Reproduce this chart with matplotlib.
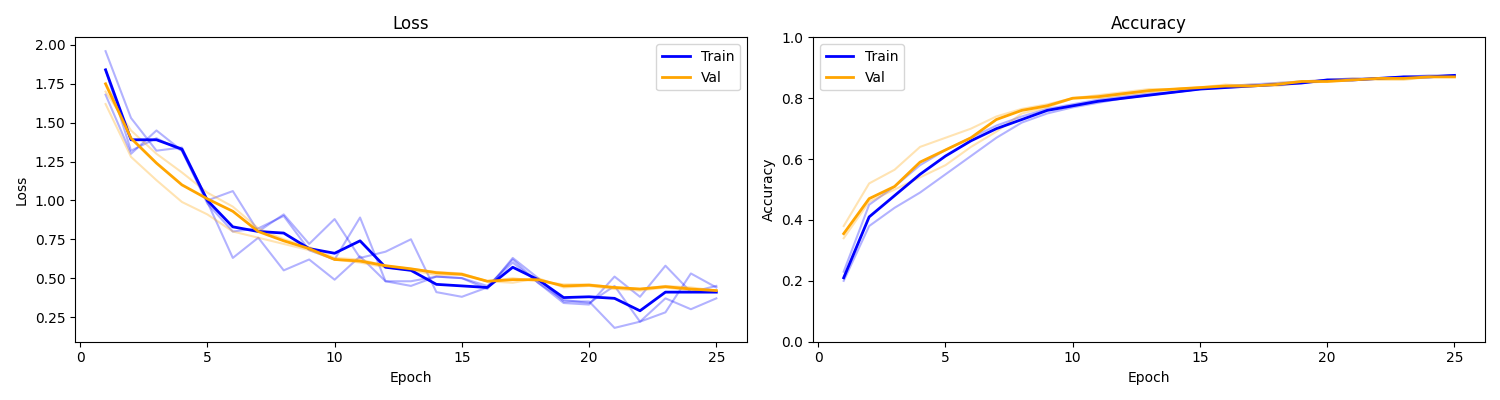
import matplotlib
matplotlib.use("Agg")
import matplotlib.pyplot as plt

epochs = list(range(1, 26))
loss_train = [1.84,1.39,1.39,1.33,1.00,0.83,0.80,0.79,0.69,0.66,0.74,0.57,0.55,0.46,0.45,0.44,0.57,0.49,0.375,0.38,0.37,0.29,0.41,0.41,0.41]
loss_val = [1.75,1.40,1.24,1.10,1.01,0.93,0.80,0.74,0.69,0.62,0.61,0.58,0.56,0.535,0.525,0.48,0.49,0.49,0.45,0.455,0.44,0.43,0.445,0.43,0.42]
loss_train_runs = [
    [1.96,1.53,1.32,1.34,1.00,1.06,0.80,0.91,0.72,0.88,0.63,0.67,0.75,0.41,0.38,0.44,0.62,0.47,0.34,0.33,0.51,0.38,0.58,0.41,0.45],
    [1.68,1.30,1.45,1.32,0.99,0.63,0.76,0.55,0.62,0.49,0.64,0.48,0.48,0.51,0.50,0.43,0.63,0.50,0.35,0.35,0.18,0.22,0.28,0.53,0.44],
    [1.84,1.32,1.40,1.32,0.98,0.80,0.82,0.90,0.68,0.62,0.89,0.48,0.45,0.51,0.50,0.45,0.60,0.47,0.36,0.34,0.45,0.22,0.37,0.30,0.37],
]
loss_val_runs = [
    [1.62,1.28,1.13,0.99,0.91,0.80,0.76,0.72,0.68,0.62,0.60,0.57,0.55,0.52,0.52,0.48,0.47,0.50,0.44,0.45,0.43,0.42,0.44,0.42,0.41],
    [1.70,1.45,1.30,1.18,1.05,0.96,0.82,0.75,0.70,0.63,0.62,0.58,0.56,0.54,0.53,0.48,0.50,0.48,0.46,0.46,0.44,0.43,0.45,0.44,0.42],
]
acc_train = [0.21,0.41,0.48,0.55,0.61,0.66,0.70,0.73,0.76,0.775,0.79,0.80,0.81,0.82,0.83,0.835,0.84,0.845,0.85,0.86,0.86,0.865,0.87,0.87,0.875]
acc_val = [0.355,0.47,0.51,0.59,0.63,0.67,0.73,0.76,0.775,0.80,0.805,0.815,0.825,0.83,0.835,0.84,0.84,0.845,0.855,0.855,0.86,0.865,0.865,0.87,0.87]
acc_train_runs = [
    [0.20,0.38,0.44,0.49,0.55,0.61,0.67,0.72,0.75,0.77,0.785,0.80,0.81,0.82,0.83,0.835,0.84,0.845,0.85,0.86,0.86,0.865,0.87,0.87,0.875],
    [0.23,0.45,0.51,0.58,0.63,0.67,0.71,0.74,0.765,0.78,0.795,0.805,0.815,0.82,0.83,0.84,0.845,0.85,0.855,0.86,0.865,0.865,0.87,0.875,0.875],
]
acc_val_runs = [
    [0.38,0.52,0.565,0.64,0.67,0.70,0.74,0.765,0.78,0.80,0.81,0.82,0.83,0.83,0.835,0.845,0.84,0.85,0.855,0.86,0.865,0.86,0.86,0.87,0.87],
    [0.34,0.46,0.50,0.54,0.58,0.64,0.69,0.75,0.77,0.80,0.80,0.81,0.82,0.83,0.835,0.84,0.845,0.84,0.85,0.855,0.86,0.865,0.87,0.87,0.87],
]

fig, axes = plt.subplots(1, 2, figsize=(15, 4), dpi=100)

ax = axes[0]
for r in loss_train_runs:
    ax.plot(epochs, r, color="blue", alpha=0.3, lw=1.5)
for r in loss_val_runs:
    ax.plot(epochs, r, color="orange", alpha=0.3, lw=1.5)
ax.plot(epochs, loss_train, color="blue", lw=2, label="Train")
ax.plot(epochs, loss_val, color="orange", lw=2, label="Val")
ax.set_title("Loss")
ax.set_xlabel("Epoch")
ax.set_ylabel("Loss")
ax.legend(loc="upper right")

ax = axes[1]
for r in acc_train_runs:
    ax.plot(epochs, r, color="blue", alpha=0.3, lw=1.5)
for r in acc_val_runs:
    ax.plot(epochs, r, color="orange", alpha=0.3, lw=1.5)
ax.plot(epochs, acc_train, color="blue", lw=2, label="Train")
ax.plot(epochs, acc_val, color="orange", lw=2, label="Val")
ax.set_title("Accuracy")
ax.set_xlabel("Epoch")
ax.set_ylabel("Accuracy")
ax.set_ylim(0, 1)
ax.legend(loc="upper left")

fig.tight_layout()
fig.savefig("out.png")
